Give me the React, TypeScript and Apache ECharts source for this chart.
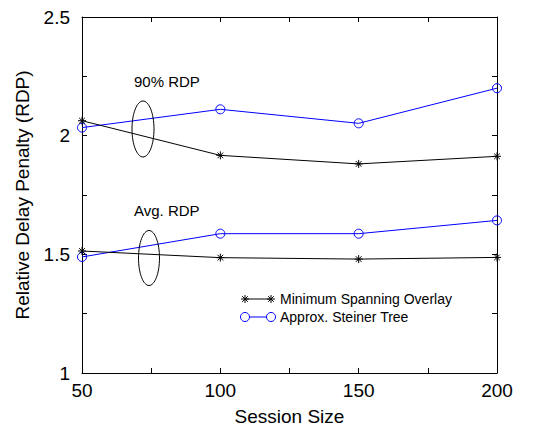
import React, { useEffect, useRef } from "react";
import * as echarts from "echarts";

const sessionSizes = [50, 100, 150, 200];
const msoRdp90 = [2.063, 1.917, 1.881, 1.913];
const astRdp90 = [2.034, 2.111, 2.052, 2.2];
const msoRdpAvg = [1.514, 1.486, 1.48, 1.487];
const astRdpAvg = [1.489, 1.587, 1.587, 1.643];
const seriesNames = ["Minimum Spanning Overlay", "Approx. Steiner Tree"];

const FONT = "Liberation Sans, Arial, sans-serif";
const ASTER = "path://M0,-4L0,4M-4,0L4,0M-2.83,-2.83L2.83,2.83M-2.83,2.83L2.83,-2.83";

const pairs = (ys: number[]) => sessionSizes.map((x, i) => [x, ys[i]]);

export default function App() {
  const ref = useRef<HTMLDivElement>(null);
  useEffect(() => {
    const chart = echarts.init(ref.current!, null, { renderer: "svg" });
    const axisLine = { show: true, lineStyle: { color: "#000", width: 1 } };
    const tickIn = { show: true, inside: true, length: 5, lineStyle: { color: "#000" } };
    const blackSeries = (data: number[]) => ({
      type: "line",
      name: seriesNames[0],
      data: pairs(data),
      symbol: ASTER,
      symbolSize: 8,
      lineStyle: { color: "#000", width: 1 },
      itemStyle: { color: "#000", borderColor: "#000", borderWidth: 1 },
      z: 3,
    });
    const blueSeries = (data: number[]) => ({
      type: "line",
      name: seriesNames[1],
      data: pairs(data),
      symbol: "circle",
      symbolSize: 9,
      lineStyle: { color: "#0000ff", width: 1 },
      itemStyle: { color: "rgba(0,0,0,0)", borderColor: "#0000ff", borderWidth: 1 },
      z: 2,
    });
    chart.setOption({
      animation: false,
      backgroundColor: "#fff",
      textStyle: { fontFamily: FONT },
      grid: { left: 82, right: 41, top: 17, bottom: 66 },
      xAxis: [
        {
          type: "value",
          min: 50,
          max: 200,
          interval: 25,
          axisLine,
          axisTick: tickIn,
          splitLine: { show: false },
          axisLabel: {
            color: "#000",
            fontSize: 19,
            fontFamily: FONT,
            margin: 8,
            formatter: (v: number) => (v % 50 === 0 ? String(v) : ""),
          },
          name: "Session Size",
          nameLocation: "middle",
          nameGap: 34,
          nameTextStyle: { color: "#000", fontSize: 19, fontFamily: FONT },
        },
        {
          type: "value",
          position: "top",
          min: 50,
          max: 200,
          interval: 25,
          axisLine,
          axisTick: tickIn,
          splitLine: { show: false },
          axisLabel: { show: false },
        },
      ],
      yAxis: [
        {
          type: "value",
          min: 1,
          max: 2.5,
          interval: 0.25,
          axisLine,
          axisTick: tickIn,
          splitLine: { show: false },
          axisLabel: {
            color: "#000",
            fontSize: 19,
            fontFamily: FONT,
            margin: 12,
            formatter: (v: number) => (Math.abs(v * 2 - Math.round(v * 2)) < 1e-6 ? String(v) : ""),
          },
          name: "Relative Delay Penalty (RDP)",
          nameLocation: "middle",
          nameGap: 50,
          nameTextStyle: { color: "#000", fontSize: 19, fontFamily: FONT },
        },
        {
          type: "value",
          position: "right",
          min: 1,
          max: 2.5,
          interval: 0.25,
          axisLine,
          axisTick: tickIn,
          splitLine: { show: false },
          axisLabel: { show: false },
        },
      ],
      series: [
        blueSeries(astRdp90),
        blueSeries(astRdpAvg),
        blackSeries(msoRdp90),
        blackSeries(msoRdpAvg),
      ],
      graphic: [
        {
          type: "text",
          left: 134,
          top: 74,
          style: { text: "90% RDP", fontSize: 15, fontFamily: FONT, fill: "#000" },
        },
        {
          type: "text",
          left: 134,
          top: 203,
          style: { text: "Avg. RDP", fontSize: 15, fontFamily: FONT, fill: "#000" },
        },
        {
          type: "ellipse",
          shape: { cx: 143, cy: 129, rx: 11, ry: 28 },
          style: { fill: "none", stroke: "#000", lineWidth: 1 },
          z: 10,
        },
        {
          type: "ellipse",
          shape: { cx: 149, cy: 258, rx: 10.5, ry: 27.5 },
          style: { fill: "none", stroke: "#000", lineWidth: 1 },
          z: 10,
        },
        // legend
        {
          type: "group",
          left: 238,
          top: 292,
          children: [
            { type: "line", shape: { x1: 4, y1: 7, x2: 30, y2: 7 }, style: { stroke: "#000", lineWidth: 1 } },
            { type: "line", shape: { x1: 4, y1: 3, x2: 4, y2: 11 }, style: { stroke: "#000", lineWidth: 1 } },
            { type: "line", shape: { x1: 0, y1: 7, x2: 8, y2: 7 }, style: { stroke: "#000", lineWidth: 1 } },
            { type: "line", shape: { x1: 1.2, y1: 4.2, x2: 6.8, y2: 9.8 }, style: { stroke: "#000", lineWidth: 1 } },
            { type: "line", shape: { x1: 1.2, y1: 9.8, x2: 6.8, y2: 4.2 }, style: { stroke: "#000", lineWidth: 1 } },
            { type: "line", shape: { x1: 30, y1: 3, x2: 30, y2: 11 }, style: { stroke: "#000", lineWidth: 1 } },
            { type: "line", shape: { x1: 26, y1: 7, x2: 34, y2: 7 }, style: { stroke: "#000", lineWidth: 1 } },
            { type: "line", shape: { x1: 27.2, y1: 4.2, x2: 32.8, y2: 9.8 }, style: { stroke: "#000", lineWidth: 1 } },
            { type: "line", shape: { x1: 27.2, y1: 9.8, x2: 32.8, y2: 4.2 }, style: { stroke: "#000", lineWidth: 1 } },
            {
              type: "text",
              x: 39,
              y: 0,
              style: { text: seriesNames[0], fontSize: 14, fontFamily: FONT, fill: "#000" },
            },
            { type: "line", shape: { x1: 8.5, y1: 25, x2: 25.5, y2: 25 }, style: { stroke: "#0000ff", lineWidth: 1 } },
            { type: "circle", shape: { cx: 4, cy: 25, r: 4.5 }, style: { fill: "none", stroke: "#0000ff", lineWidth: 1 } },
            { type: "circle", shape: { cx: 30, cy: 25, r: 4.5 }, style: { fill: "none", stroke: "#0000ff", lineWidth: 1 } },
            {
              type: "text",
              x: 39,
              y: 18,
              style: { text: seriesNames[1], fontSize: 14, fontFamily: FONT, fill: "#000" },
            },
          ],
        },
      ],
    });
    return () => chart.dispose();
  }, []);
  return (
    <div
      ref={ref}
      style={{ position: "absolute", left: 0, top: 0, width: 538, height: 439 }}
    />
  );
}
